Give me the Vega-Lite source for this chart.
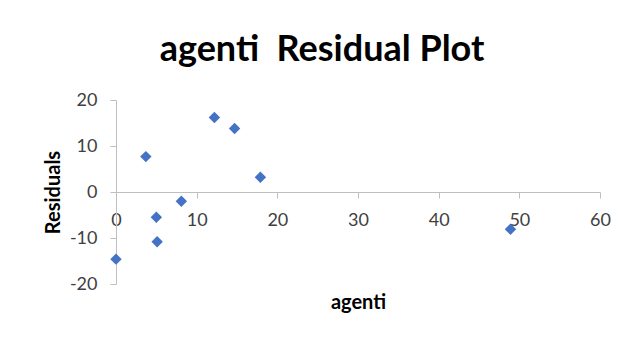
{
  "$schema": "https://vega.github.io/schema/vega-lite/v6.json",
  "autosize": "none",
  "width": 484,
  "height": 184,
  "padding": {"left": 116, "top": 100, "right": 42, "bottom": 66},
  "background": "white",
  "title": {
    "text": "agenti\u00a0 Residual Plot",
    "font": "Lato",
    "fontSize": 36,
    "fontWeight": "bold",
    "color": "black",
    "anchor": "middle",
    "frame": "group",
    "dx": -36,
    "baseline": "alphabetic",
    "offset": 30,
    "dy": 36
  },
  "config": {
    "view": {"stroke": null},
    "axis": {
      "domainColor": "#BFBFBF",
      "tickColor": "#BFBFBF",
      "labelFont": "Lato",
      "labelFontSize": 18,
      "labelColor": "#404040",
      "titleFont": "Lato",
      "titleFontSize": 20,
      "titleFontWeight": "bold",
      "titleColor": "black",
      "grid": false,
      "tickSize": 6
    }
  },
  "data": {
    "values": [
      {"agenti": 0, "residual": -14.6},
      {"agenti": 3.7, "residual": 7.7},
      {"agenti": 5.0, "residual": -5.5},
      {"agenti": 5.1, "residual": -10.8},
      {"agenti": 8.1, "residual": -2.0},
      {"agenti": 12.2, "residual": 16.2},
      {"agenti": 14.7, "residual": 13.8},
      {"agenti": 17.9, "residual": 3.2},
      {"agenti": 48.9, "residual": -8.1}
    ]
  },
  "mark": {"type": "point", "shape": "diamond", "filled": true, "color": "#4472C4", "opacity": 1, "size": 130},
  "encoding": {
    "x": {
      "field": "agenti",
      "type": "quantitative",
      "scale": {"domain": [0, 60], "nice": false},
      "axis": {
        "values": [0, 10, 20, 30, 40, 50, 60],
        "title": "agenti",
        "offset": -92,
        "labelPadding": 13,
        "titleY": 100,
        "labelFlush": false,
        "labelExpr": "'' + datum.value"
      }
    },
    "y": {
      "field": "residual",
      "type": "quantitative",
      "scale": {"domain": [-20, 20], "nice": false},
      "axis": {
        "values": [-20, -10, 0, 10, 20],
        "title": "Residuals",
        "labelPadding": 13,
        "titlePadding": 6,
        "labelFlush": false,
        "labelExpr": "'' + datum.value"
      }
    }
  }
}
